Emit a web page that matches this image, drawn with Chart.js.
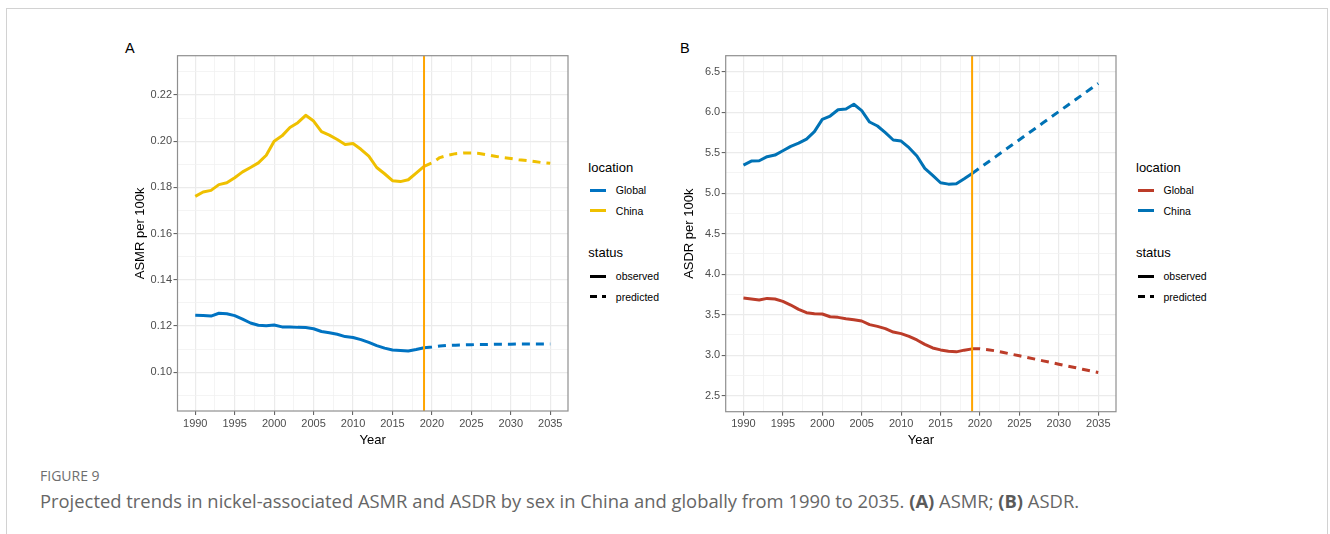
<!DOCTYPE html>
<html>
<head>
<meta charset="utf-8">
<script src="https://cdn.jsdelivr.net/npm/chart.js@4.4.1/dist/chart.umd.min.js"></script>
<style>
  html, body { margin: 0; padding: 0; background: #fff; }
  body { width: 1330px; height: 534px; position: relative; overflow: hidden;
         font-family: "Liberation Sans", Arial, sans-serif; }
  .frame { position: absolute; left: 6px; top: 8px; width: 1322px; height: 600px;
           border: 1.5px solid #d2d2d2; box-sizing: border-box; }
  canvas.panel { position: absolute; top: 40px; }
  .tag { position: absolute; font-size: 14.5px; line-height: 14.5px; color: #000; }
  .lg { position: absolute; white-space: nowrap; color: #000; }
  .lg-title { font-size: 13px; line-height: 13px; }
  .lg-item { font-size: 10.5px; line-height: 10.5px; }
  .key { position: absolute; height: 3px; }
  .fig-label { position: absolute; left: 40px; top: 468px; font-family: "Open Sans", sans-serif;
               font-size: 14px; line-height: 16px; color: #6e6e6e; }
  .caption { position: absolute; left: 40px; top: 491px; font-family: "Open Sans", sans-serif;
             font-size: 17px; line-height: 20px; color: #666; white-space: nowrap; }
  .caption b { color: #5a5a5a; font-weight: 700; }
</style>
</head>
<body>
<div class="frame"></div>
<div class="tag" style="left:125px;top:41px;">A</div>
<div class="tag" style="left:680px;top:41px;">B</div>
<canvas id="chartA" class="panel" width="460" height="420" style="left:120px;"></canvas>
<canvas id="chartB" class="panel" width="460" height="420" style="left:670px;"></canvas>
<div id="legendA"></div>
<div id="legendB"></div>
<div class="fig-label">FIGURE 9</div>
<div class="caption" id="caption">Projected trends in nickel-associated ASMR and ASDR by sex in China and globally from 1990 to 2035. <b>(A)</b> ASMR; <b>(B)</b> ASDR.</div>

<script>
// ---- data ----
const observedYears = [1990,1991,1992,1993,1994,1995,1996,1997,1998,1999,
                       2000,2001,2002,2003,2004,2005,2006,2007,2008,2009,
                       2010,2011,2012,2013,2014,2015,2016,2017,2018,2019];
const predictedYears = [2019,2020,2021,2022,2023,2024,2025,2026,2027,2028,
                        2029,2030,2031,2032,2033,2034,2035];
const projectionStart = 2019;

const locationNames = ['Global', 'China'];
const statusNames = ['observed', 'predicted'];
const xTickLabels = ['1990','1995','2000','2005','2010','2015','2020','2025','2030','2035'];

// ASMR per 100k
const asmrGlobalObserved = [0.1246,0.1245,0.1243,0.1255,0.1253,0.1245,0.1230,0.1213,0.1203,0.1201,
                            0.1204,0.1196,0.1196,0.1194,0.1193,0.1188,0.1176,0.1171,0.1164,0.1154,
                            0.1150,0.1141,0.1129,0.1115,0.1104,0.1096,0.1094,0.1092,0.1098,0.1106];
const asmrGlobalPredicted = [0.1106,0.1109,0.1113,0.1116,0.1117,0.1118,0.1119,0.1120,0.1120,0.1121,
                             0.1121,0.1121,0.1122,0.1122,0.1122,0.1122,0.1122];
const asmrChinaObserved = [0.1761,0.1780,0.1787,0.1812,0.1820,0.1842,0.1867,0.1886,0.1906,0.1939,
                           0.2000,0.2023,0.2059,0.2080,0.2112,0.2087,0.2041,0.2026,0.2007,0.1986,
                           0.1990,0.1965,0.1935,0.1886,0.1859,0.1829,0.1825,0.1833,0.1862,0.1891];
const asmrChinaPredicted = [0.1891,0.1906,0.1929,0.1939,0.1946,0.1949,0.1949,0.1947,0.1941,0.1935,
                            0.1929,0.1925,0.1920,0.1916,0.1912,0.1907,0.1904];
const asmrTickLabels = ['0.10','0.12','0.14','0.16','0.18','0.20','0.22'];

// ASDR per 100k
const asdrGlobalObserved = [3.705,3.693,3.681,3.701,3.693,3.664,3.619,3.566,3.525,3.512,
                            3.508,3.475,3.467,3.451,3.438,3.422,3.377,3.356,3.328,3.286,
                            3.266,3.233,3.188,3.134,3.089,3.065,3.049,3.041,3.062,3.078];
const asdrGlobalPredicted = [3.078,3.078,3.068,3.053,3.033,3.012,2.992,2.972,2.951,2.930,
                             2.910,2.889,2.868,2.848,2.827,2.806,2.786];
const asdrChinaObserved = [5.347,5.397,5.401,5.451,5.471,5.525,5.578,5.618,5.668,5.760,
                           5.912,5.953,6.030,6.040,6.098,6.020,5.879,5.830,5.747,5.657,
                           5.644,5.562,5.459,5.306,5.220,5.129,5.112,5.116,5.178,5.244];
const asdrChinaPredicted = [5.244,5.313,5.383,5.452,5.522,5.591,5.661,5.730,5.800,5.869,
                            5.939,6.008,6.078,6.147,6.217,6.286,6.356];
const asdrTickLabels = ['2.5','3.0','3.5','4.0','4.5','5.0','5.5','6.0','6.5'];

// ---- shared styling ----
const FONT = '"Liberation Sans", Arial, sans-serif';
const GRID_MAJOR = '#ebebeb';
const GRID_MINOR = '#f1f1f1';
const TICK_COLOR = '#555555';

function tickSet(labels, min, max) {
  const majors = labels.map(parseFloat);
  const step = majors[1] - majors[0];
  const minors = [];
  if (majors[0] - step / 2 >= min) minors.push(majors[0] - step / 2);
  for (let i = 0; i < majors.length - 1; i++) minors.push((majors[i] + majors[i + 1]) / 2);
  if (majors[majors.length - 1] + step / 2 <= max) minors.push(majors[majors.length - 1] + step / 2);
  const all = majors.concat(minors).sort((a, b) => a - b);
  const labelOf = v => {
    const i = majors.findIndex(m => Math.abs(m - v) < 1e-9);
    return i >= 0 ? labels[i] : '';
  };
  return { all, labelOf };
}

// panel frame and the projection-start marker
const panelDecor = {
  id: 'panelDecor',
  afterDatasetsDraw(chart) {
    const { ctx, chartArea: a, scales: { x } } = chart;
    const px = x.getPixelForValue(projectionStart);
    ctx.save();
    ctx.strokeStyle = '#ffa500';
    ctx.lineWidth = 2;
    ctx.beginPath();
    ctx.moveTo(px, a.top);
    ctx.lineTo(px, a.bottom);
    ctx.stroke();
    ctx.strokeStyle = '#8f8f8f';
    ctx.lineWidth = 1.2;
    ctx.strokeRect(a.left, a.top, a.right - a.left, a.bottom - a.top);
    ctx.restore();
  }
};

function makePanel(id, opt) {
  const xt = tickSet(xTickLabels, 1987.75, 2037.25);
  const yt = tickSet(opt.yLabels, opt.yMin, opt.yMax);
  const datasets = [];
  opt.series.forEach(s => {
    const common = { borderColor: s.color, borderWidth: 3, pointRadius: 0, tension: 0,
                     borderCapStyle: 'butt', borderJoinStyle: 'round', fill: false };
    datasets.push(Object.assign({ label: s.name + ' ' + statusNames[0],
      data: observedYears.map((yr, i) => ({ x: yr, y: s.observed[i] })) }, common));
    datasets.push(Object.assign({ label: s.name + ' ' + statusNames[1], borderDash: [8, 6],
      data: predictedYears.map((yr, i) => ({ x: yr, y: s.predicted[i] })) }, common));
  });
  const gridOpts = tk => ({
    color: c => (tk.labelOf(c.tick.value) ? GRID_MAJOR : GRID_MINOR),
    lineWidth: c => (tk.labelOf(c.tick.value) ? 1.2 : 0.8),
    tickColor: c => (tk.labelOf(c.tick.value) ? TICK_COLOR : 'rgba(0,0,0,0)'),
    tickWidth: 1, tickLength: 4, drawTicks: true
  });
  return new Chart(document.getElementById(id), {
    type: 'line',
    data: { datasets },
    options: {
      animation: false, responsive: false, maintainAspectRatio: false,
      layout: { padding: { top: 15.7, right: opt.padRight, left: 0, bottom: 0 } },
      plugins: { legend: { display: false }, tooltip: { enabled: false } },
      scales: {
        x: {
          type: 'linear', min: 1987.75, max: 2037.25,
          afterBuildTicks: s => { s.ticks = xt.all.map(v => ({ value: v })); },
          afterFit: s => { s.height = opt.xHeight; },
          ticks: { autoSkip: false, maxRotation: 0, minRotation: 0, padding: 2, color: '#4d4d4d',
                   font: { family: FONT, size: 11 }, callback: v => xt.labelOf(v) },
          grid: gridOpts(xt),
          border: { display: false },
          title: { display: true, text: 'Year', color: '#000', font: { family: FONT, size: 13 },
                   padding: { top: 0, bottom: 11.5 } }
        },
        y: {
          type: 'linear', min: opt.yMin, max: opt.yMax,
          afterBuildTicks: s => { s.ticks = yt.all.map(v => ({ value: v })); },
          afterFit: s => { s.width = opt.yWidth; },
          ticks: { autoSkip: false, padding: 1.5, color: '#4d4d4d',
                   font: { family: FONT, size: 11 }, callback: v => yt.labelOf(v) },
          grid: gridOpts(yt),
          border: { display: false },
          title: { display: true, text: opt.yTitle, color: '#000', font: { family: FONT, size: 13 },
                   padding: { top: opt.yTitlePad, bottom: 0 } }
        }
      }
    },
    plugins: [panelDecor]
  });
}

makePanel('chartA', {
  yTitle: 'ASMR per 100k', yLabels: asmrTickLabels, yMin: 0.0832, yMax: 0.2370,
  yWidth: 57.5, yTitlePad: 12.4, xHeight: 49, padRight: 12,
  series: [
    { name: locationNames[0], color: '#0073c2', observed: asmrGlobalObserved, predicted: asmrGlobalPredicted },
    { name: locationNames[1], color: '#efc000', observed: asmrChinaObserved, predicted: asmrChinaPredicted }
  ]
});
makePanel('chartB', {
  yTitle: 'ASDR per 100k', yLabels: asdrTickLabels, yMin: 2.302, yMax: 6.698,
  yWidth: 55.7, yTitlePad: 11.2, xHeight: 48.3, padRight: 14,
  series: [
    { name: locationNames[0], color: '#bc3c29', observed: asdrGlobalObserved, predicted: asdrGlobalPredicted },
    { name: locationNames[1], color: '#0072b5', observed: asdrChinaObserved, predicted: asdrChinaPredicted }
  ]
});

// ---- legends ----
function buildLegend(hostId, left, colors) {
  const host = document.getElementById(hostId);
  const add = (cls, text, x, top) => {
    const d = document.createElement('div');
    d.className = 'lg ' + cls;
    d.textContent = text;
    d.style.left = x + 'px';
    d.style.top = top + 'px';
    host.appendChild(d);
  };
  const key = (x, y, w, color) => {
    const k = document.createElement('div');
    k.className = 'key';
    k.style.left = x + 'px';
    k.style.top = (y - 1.5) + 'px';
    k.style.width = w + 'px';
    k.style.background = color;
    host.appendChild(k);
  };
  const keyX = left + 2, labelX = left + 27.5;
  add('lg-title', 'location', left, 160.7);
  [190, 210.7].forEach((y, i) => {
    key(keyX, y, 16, colors[i]);
    add('lg-item', locationNames[i], labelX, y - 5.2);
  });
  add('lg-title', 'status', left, 246.3);
  key(keyX, 276, 16, '#000');
  add('lg-item', statusNames[0], labelX, 276 - 5.2);
  key(keyX, 296.7, 6.7, '#000');
  key(keyX + 11.7, 296.7, 4.3, '#000');
  add('lg-item', statusNames[1], labelX, 296.7 - 5.2);
}
buildLegend('legendA', 588.3, ['#0073c2', '#efc000']);
buildLegend('legendB', 1136, ['#bc3c29', '#0072b5']);

// caption runs to the same right edge as the panel block
(function fitCaption() {
  const cap = document.getElementById('caption');
  const target = 1040;
  const w = cap.getBoundingClientRect().width;
  if (w > 0) cap.style.fontSize = (17 * target / w).toFixed(2) + 'px';
})();
</script>
</body>
</html>
